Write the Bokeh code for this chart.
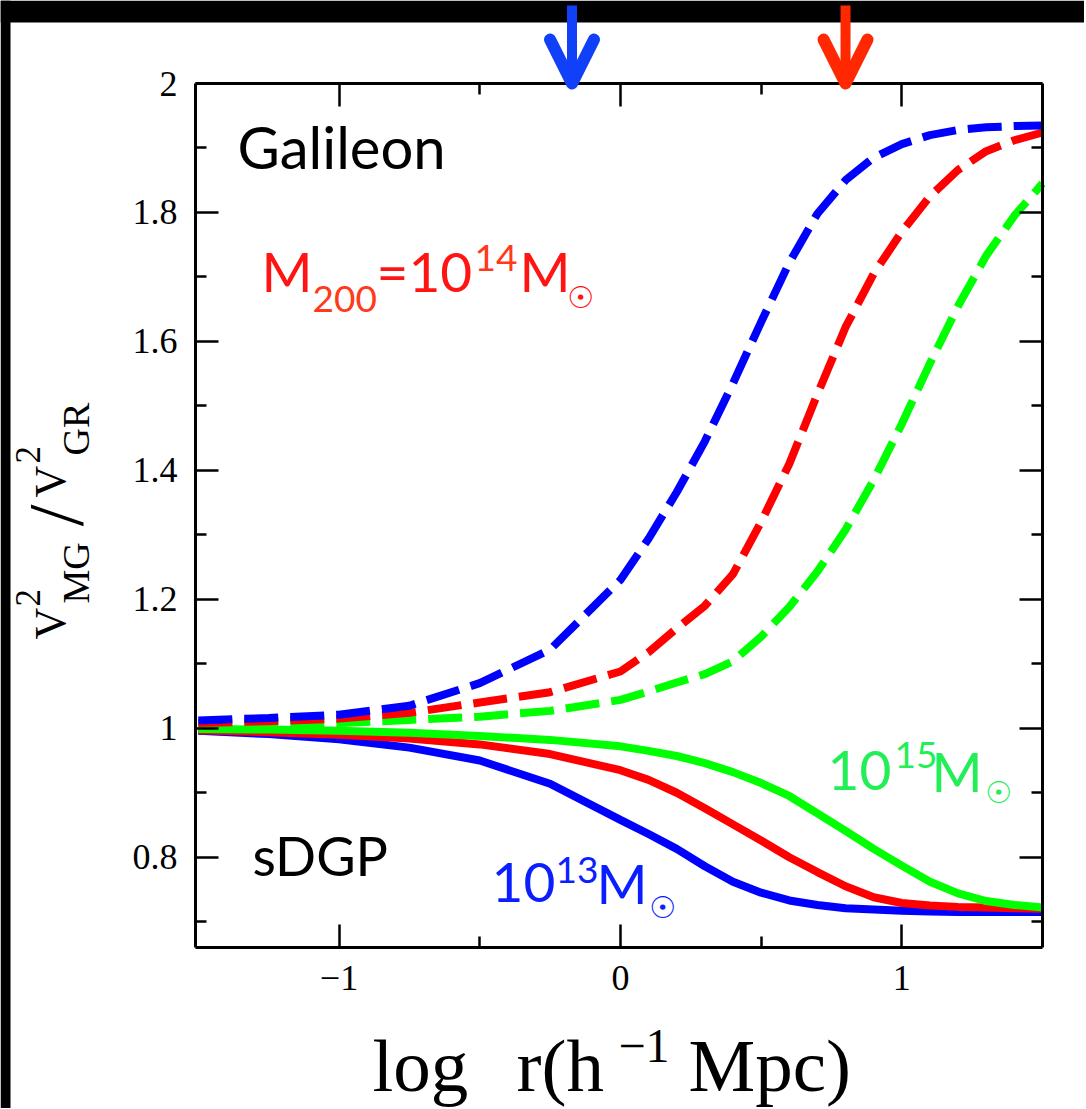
import math
from bokeh.plotting import figure
from bokeh.models import (Label, Arrow, OpenHead, LinearAxis, FixedTicker, Range1d)
from bokeh.embed import file_html
from bokeh.resources import INLINE

# ---------------- data ----------------
log_r = [-1.5, -1.25, -1.0, -0.75, -0.5, -0.25, 0.0, 0.1, 0.2, 0.3, 0.4, 0.5,
         0.6, 0.7, 0.8, 0.9, 1.0, 1.1, 1.2, 1.3, 1.4, 1.5]

gal_13 = [1.012, 1.016, 1.021, 1.035, 1.070, 1.122, 1.230, 1.294, 1.366, 1.445,
          1.535, 1.630, 1.722, 1.798, 1.850, 1.885, 1.906, 1.920, 1.928, 1.932,
          1.934, 1.935]
gal_14 = [1.008, 1.011, 1.015, 1.024, 1.040, 1.056, 1.088, 1.118, 1.155, 1.190,
          1.239, 1.320, 1.410, 1.518, 1.622, 1.705, 1.770, 1.825, 1.866, 1.895,
          1.912, 1.924]
gal_15 = [1.004, 1.006, 1.008, 1.013, 1.018, 1.027, 1.044, 1.057, 1.071, 1.084,
          1.104, 1.142, 1.188, 1.243, 1.308, 1.385, 1.472, 1.566, 1.655, 1.733,
          1.795, 1.845]

dgp_13 = [0.996, 0.991, 0.983, 0.970, 0.950, 0.914, 0.858, 0.836, 0.813, 0.786,
          0.762, 0.745, 0.733, 0.726, 0.721, 0.719, 0.717, 0.716, 0.715, 0.715,
          0.715, 0.715]
dgp_14 = [0.997, 0.994, 0.990, 0.984, 0.975, 0.960, 0.935, 0.920, 0.900, 0.876,
          0.851, 0.826, 0.800, 0.777, 0.755, 0.738, 0.729, 0.725, 0.723, 0.722,
          0.721, 0.720]
dgp_15 = [0.999, 0.998, 0.996, 0.993, 0.988, 0.982, 0.972, 0.965, 0.957, 0.946,
          0.932, 0.915, 0.895, 0.868, 0.841, 0.813, 0.787, 0.762, 0.744, 0.732,
          0.726, 0.722]

arrow_x = [-0.172, 0.800]
arrow_colors = ["#1040f8", "#ff2800"]

x_ticks = [-1, 0, 1]
x_minor = [-0.5, 0.5]
x_tick_labels = {-1: "\u22121", 0: "0", 1: "1"}
y_ticks = [0.8, 1.0, 1.2, 1.4, 1.6, 1.8, 2.0]
y_minor = [0.7, 0.9, 1.1, 1.3, 1.5, 1.7, 1.9]
y_tick_labels = {0.8: "0.8", 1.0: "1", 1.2: "1.2", 1.4: "1.4", 1.6: "1.6",
                 1.8: "1.8", 2.0: "2"}

BLUE, RED, GREEN = "#0000ff", "#ff0000", "#00ff00"

# ---------------- page geometry (page pixels) ----------------
X0, X1, Y0, Y1 = -1.51, 1.5, 0.66, 2.0      # the plotting box
FR_L, FR_R, FR_T, FR_B = 195, 1042, 83, 947  # where the box sits on the page
W, H = 1084, 1108


def px2x(px):
    return X0 + (px - FR_L) / (FR_R - FR_L) * (X1 - X0)


def py2y(py):
    return Y1 - (py - FR_T) / (FR_B - FR_T) * (Y1 - Y0)


# one canvas-wide frame; the box is drawn by fixed-location axes with bounds
p = figure(width=W, height=H, x_range=Range1d(px2x(0), px2x(W)),
           y_range=Range1d(py2y(H), py2y(0)), x_axis_type=None,
           y_axis_type=None, toolbar_location=None, output_backend="svg",
           min_border=0)
p.title.visible = False
p.grid.visible = False
p.outline_line_color = None
p.background_fill_color = "white"
p.border_fill_color = "white"

xt = FixedTicker(ticks=x_ticks, minor_ticks=x_minor)
yt = FixedTicker(ticks=y_ticks, minor_ticks=y_minor)


def make_axis(ticker, fixed, bounds, labels, overrides=None):
    ax = LinearAxis(ticker=ticker, fixed_location=fixed, bounds=bounds)
    ax.axis_line_width = 3
    ax.axis_line_color = "black"
    ax.major_tick_line_width = 2.5
    ax.minor_tick_line_width = 2.5
    ax.major_tick_in = 23
    ax.major_tick_out = 0
    ax.minor_tick_in = 11
    ax.minor_tick_out = 0
    ax.major_label_text_font = "Liberation Serif"
    if labels:
        ax.major_label_text_font_size = "36px"
        ax.major_label_text_color = "black"
        ax.major_label_standoff = 18
        ax.major_label_overrides = overrides
    else:
        ax.major_label_text_font_size = "0px"
        ax.major_label_text_color = None
        ax.major_label_standoff = 0
    return ax


# black slide edges (drawn first, under everything)
p.quad(left=[px2x(0)], right=[px2x(W)], top=[py2y(0)], bottom=[py2y(22)],
       fill_color="black", line_color=None)
p.quad(left=[px2x(0)], right=[px2x(10)], top=[py2y(0)], bottom=[py2y(H)],
       fill_color="black", line_color=None)

p.add_layout(make_axis(xt, Y0, (X0, X1), True, x_tick_labels), "below")
p.add_layout(make_axis(yt, X0, (Y0, Y1), True, y_tick_labels), "left")
p.add_layout(make_axis(xt, Y1, (X0, X1), False), "above")
p.add_layout(make_axis(yt, X1, (Y0, Y1), False), "right")

LW = 8
for ys, c in [(dgp_13, BLUE), (dgp_14, RED), (dgp_15, GREEN)]:
    p.line(log_r, ys, line_color=c, line_width=LW)
for ys, c in [(gal_15, GREEN), (gal_14, RED), (gal_13, BLUE)]:
    p.line(log_r, ys, line_color=c, line_width=LW, line_dash="34 12")

# arrows above the box
for ax_, col in zip(arrow_x, arrow_colors):
    p.add_layout(Arrow(x_start=ax_, y_start=py2y(5), x_end=ax_, y_end=py2y(83),
                       line_color=col, line_width=10,
                       end=OpenHead(size=44, line_color=col, line_width=12,
                                    line_cap="round", line_join="round")))


def lab(text, px, py, size, color, font="Lato", angle=0.0, align="left",
        style="normal"):
    # (px, py): page position of the visual middle of the text line
    p.add_layout(Label(x=px2x(px), y=py2y(py), text=text, text_font=font,
                       text_font_size=f"{size}px", text_color=color,
                       text_align=align, text_baseline="middle",
                       text_font_style=style, angle=angle))


lab("Galileon", 237, 146, 58, "black")
lab("sDGP", 252, 855, 54, "black")

RT = "#ff1414"
RT2 = "#ff3a1a"
lab("M", 261, 270, 55, RT)
lab("200", 312, 298, 37, RT2)
lab("=10", 376, 270, 55, RT)
lab("14", 474, 257, 37, RT2)
lab("M", 519, 270, 55, RT)
lab("\u2609", 580, 297, 30, RT, font="DejaVu Sans", align="center",
    style="bold")

BT = "#0a1eff"
lab("10", 491, 882, 55, BT)
lab("13", 555, 869, 37, BT)
lab("M", 596, 882, 55, BT)
lab("\u2609", 662, 907, 30, BT, font="DejaVu Sans", align="center",
    style="bold")

GT = "#22ee55"
lab("10", 827, 770, 55, GT)
lab("15", 894, 754, 37, GT)
lab("M", 931, 770, 55, GT)
lab("\u2609", 998, 792, 30, GT, font="DejaVu Sans", align="center",
    style="bold")

# y-axis title (rotated pieces)
SF = "Liberation Serif"
A = math.pi / 2
lab("V", 50, 639, 44, "black", font=SF, angle=A)
lab("2", 27, 606, 35, "black", font=SF, angle=A)
lab("MG", 75, 603, 38, "black", font=SF, angle=A)
lab("/", 55, 515, 78, "black", font=SF, angle=A, align="center")
lab("V", 50, 497, 44, "black", font=SF, angle=A)
lab("2", 27, 463, 35, "black", font=SF, angle=A)
lab("GR", 75, 455, 38, "black", font=SF, angle=A)

# x-axis title
lab("log", 372, 1065, 75, "black", font=SF)
lab("r(h", 516, 1065, 75, "black", font=SF)
lab("\u22121", 618, 1045, 48, "black", font=SF)
lab("Mpc)", 688, 1065, 75, "black", font=SF)

open("out.html", "w").write(file_html(p, INLINE))
